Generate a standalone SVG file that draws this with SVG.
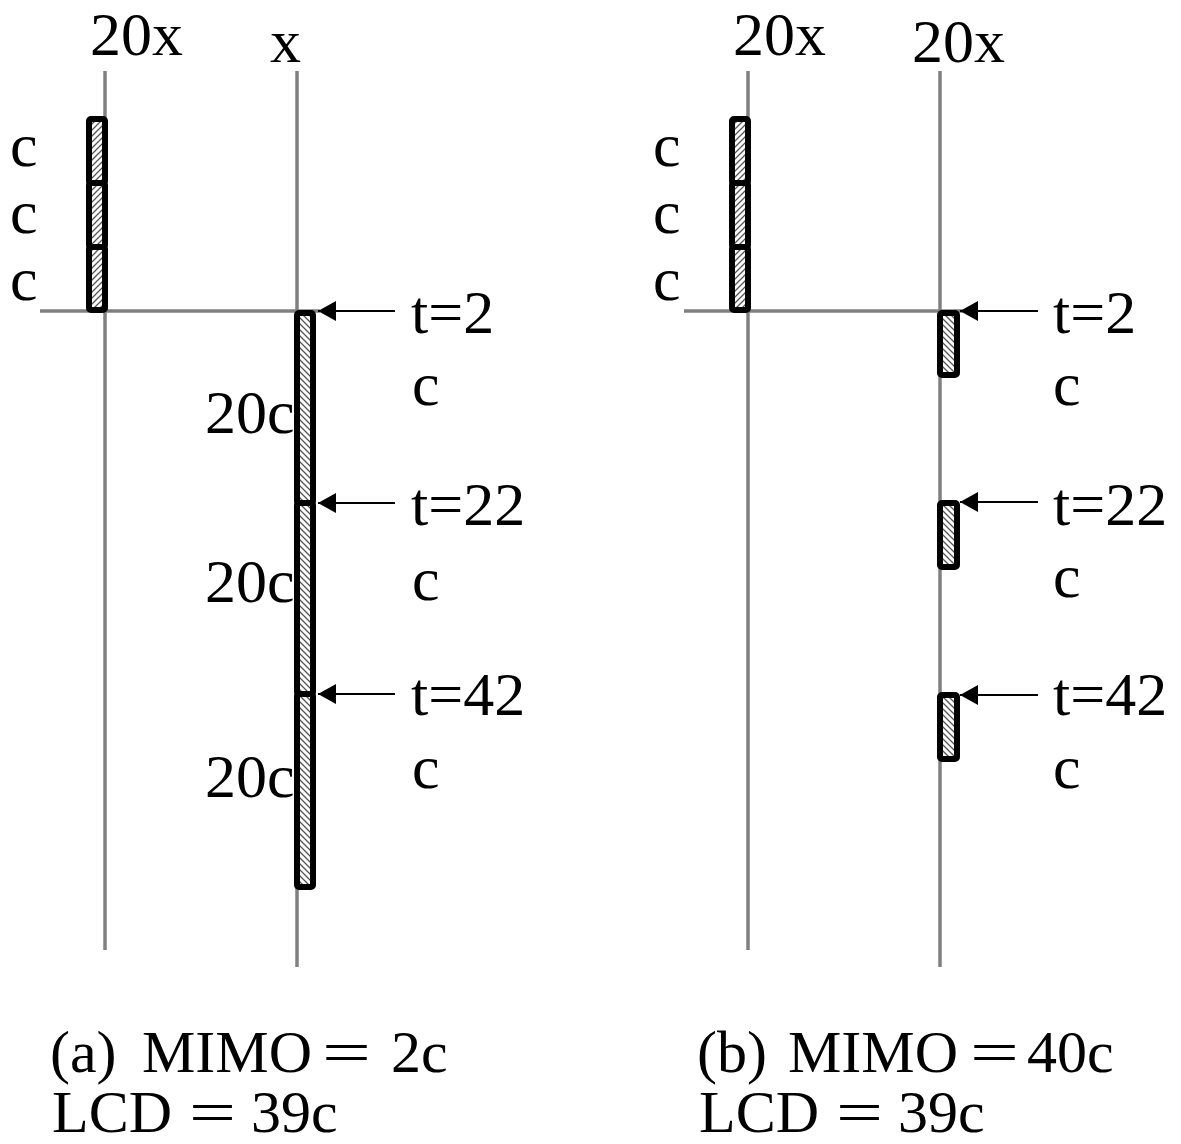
<svg xmlns="http://www.w3.org/2000/svg" width="1181" height="1144" viewBox="0 0 1181 1144">
<style>
  text { font-family: "Liberation Serif", "Times New Roman", serif; font-size: 62px; fill: #000; }
  .cap { font-size: 60px; }
  .axis { stroke: #808080; stroke-width: 3.5; fill: none; }
  .barL { fill: url(#hatchL); stroke: #000; stroke-width: 6; }
  .barR { fill: url(#hatchR); stroke: #000; stroke-width: 6; }
  .arrow { stroke: #000; stroke-width: 1.8; fill: none; marker-end: url(#ah); }
</style>
<defs>
  <pattern id="hatchL" patternUnits="userSpaceOnUse" width="6" height="6">
    <rect width="6" height="6" fill="#fff"/>
    <path d="M-1,1 L1,-1 M0,6 L6,0 M5,7 L7,5" stroke="#555" stroke-width="1.3"/>
  </pattern>
  <pattern id="hatchR" patternUnits="userSpaceOnUse" width="6" height="6">
    <rect width="6" height="6" fill="#fff"/>
    <path d="M-1,5 L1,7 M0,0 L6,6 M5,-1 L7,1" stroke="#555" stroke-width="1.3"/>
  </pattern>
  <marker id="ah" markerUnits="userSpaceOnUse" markerWidth="18" markerHeight="20" refX="18" refY="10" orient="auto" overflow="visible">
    <path d="M0,0 L18,10 L0,20 z" fill="#000"/>
  </marker>
</defs>

<g id="axes">
  <line class="axis" x1="105" y1="71" x2="105" y2="950"/>
  <line class="axis" x1="297" y1="71" x2="297" y2="967"/>
  <line class="axis" x1="40" y1="311" x2="320" y2="311"/>
  <line class="axis" x1="748" y1="71" x2="748" y2="950"/>
  <line class="axis" x1="940" y1="71" x2="940" y2="967"/>
  <line class="axis" x1="684" y1="311" x2="963" y2="311"/>
</g>

<g id="panel-a-left-bar">
  <rect class="barL" x="89" y="119" width="16" height="64" rx="2"/>
  <rect class="barL" x="89" y="183" width="16" height="64" rx="2"/>
  <rect class="barL" x="89" y="247" width="16" height="63" rx="2"/>
</g>
<g id="panel-a-right-bar">
  <rect class="barR" x="297" y="313" width="16" height="190" rx="2"/>
  <rect class="barR" x="297" y="503" width="16" height="191" rx="2"/>
  <rect class="barR" x="297" y="694" width="16" height="193" rx="2"/>
</g>
<g id="panel-b-left-bar">
  <rect class="barL" x="732" y="119" width="16" height="64" rx="2"/>
  <rect class="barL" x="732" y="183" width="16" height="64" rx="2"/>
  <rect class="barL" x="732" y="247" width="16" height="63" rx="2"/>
</g>
<g id="panel-b-right-bars">
  <rect class="barR" x="940" y="313" width="17" height="62" rx="2"/>
  <rect class="barR" x="940" y="503" width="17" height="64" rx="2"/>
  <rect class="barR" x="940" y="695" width="17" height="64" rx="2"/>
</g>

<g id="connectors">
  <path class="arrow" d="M395,311 L318,311"/>
  <path class="arrow" d="M395,503 L318,503"/>
  <path class="arrow" d="M395,694 L318,694"/>
  <path class="arrow" d="M1038,311 L960,311"/>
  <path class="arrow" d="M1038,502 L960,502"/>
  <path class="arrow" d="M1038,695 L960,695"/>
</g>

<g id="labels-a">
  <text x="90" y="55">20x</text>
  <text x="270" y="62">x</text>
  <text x="10" y="166">c</text>
  <text x="10" y="233">c</text>
  <text x="10" y="300">c</text>
  <text x="411" y="333">t=2</text>
  <text x="412" y="405">c</text>
  <text x="205" y="433">20c</text>
  <text x="411" y="525">t=22</text>
  <text x="412" y="600">c</text>
  <text x="205" y="602">20c</text>
  <text x="411" y="715">t=42</text>
  <text x="412" y="788">c</text>
  <text x="205" y="797">20c</text>
  <text class="cap" y="1072"><tspan x="50">(a)</tspan><tspan x="142">MIMO</tspan></text>
  <text class="cap" x="322" y="1072" textLength="49" lengthAdjust="spacingAndGlyphs">=</text>
  <text class="cap" x="391" y="1072">2c</text>
  <text class="cap" x="52" y="1132">LCD</text>
  <text class="cap" x="189" y="1132" textLength="47" lengthAdjust="spacingAndGlyphs">=</text>
  <text class="cap" x="251" y="1132">39c</text>
</g>

<g id="labels-b">
  <text x="733" y="55">20x</text>
  <text x="912" y="62">20x</text>
  <text x="653" y="166">c</text>
  <text x="653" y="233">c</text>
  <text x="653" y="300">c</text>
  <text x="1053" y="333">t=2</text>
  <text x="1053" y="405">c</text>
  <text x="1053" y="525">t=22</text>
  <text x="1053" y="597">c</text>
  <text x="1053" y="715">t=42</text>
  <text x="1053" y="788">c</text>
  <text class="cap" y="1072"><tspan x="697">(b)</tspan><tspan x="788">MIMO</tspan></text>
  <text class="cap" x="970" y="1072" textLength="49" lengthAdjust="spacingAndGlyphs">=</text>
  <text class="cap" x="1027" y="1072">40c</text>
  <text class="cap" x="699" y="1132">LCD</text>
  <text class="cap" x="836" y="1132" textLength="47" lengthAdjust="spacingAndGlyphs">=</text>
  <text class="cap" x="898" y="1132">39c</text>
</g>
</svg>
